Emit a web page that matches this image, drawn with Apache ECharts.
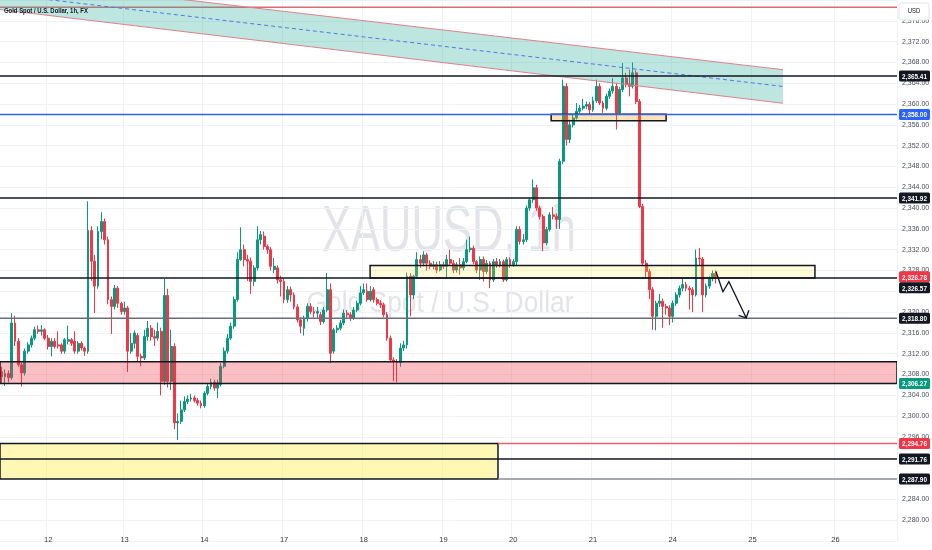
<!DOCTYPE html>
<html><head><meta charset="utf-8">
<script src="https://cdn.jsdelivr.net/npm/echarts@6/dist/echarts.min.js"></script>
<style>html,body{margin:0;padding:0;background:#fff}#c{width:932px;height:550px}</style>
</head><body><div id="c"></div><script>
// ---------- DATA ----------
const N_BARS = 270;                       // hourly slots on the time axis (incl. future space)
const dayLabels   = ['12','13','14','17','18','19','20','21','24','25','26'];
const dayStartBar = [14, 37, 61, 85, 109, 133, 154, 178, 202, 226, 251];
// hourly candles: [open, close, low, high]
const ohlc = [
[2308.6,2307.6,2306.3,2309.5],[2307.6,2308.2,2305.8,2309.0],[2308.2,2307.4,2306.5,2308.8],[2307.4,2317.9,2307.0,2319.8],
[2317.9,2314.4,2313.5,2319.3],[2314.4,2309.9,2309.5,2315.0],[2309.9,2308.3,2305.7,2310.4],[2308.3,2312.5,2307.8,2313.0],
[2312.5,2313.7,2312.0,2314.2],[2313.7,2315.0,2313.2,2315.5],[2315.0,2316.6,2314.6,2317.2],[2316.6,2316.3,2315.8,2317.4],
[2316.3,2316.6,2315.5,2317.5],[2316.6,2315.0,2314.6,2316.9],[2315.0,2313.4,2312.8,2315.6],[2313.4,2314.4,2311.5,2315.0],
[2314.4,2313.4,2313.0,2315.0],[2313.7,2313.5,2313.0,2316.3],[2313.7,2312.5,2312.0,2314.0],[2312.5,2314.7,2312.0,2315.0],
[2314.4,2314.7,2313.8,2317.4],[2314.7,2314.0,2313.5,2315.0],[2314.4,2312.5,2312.0,2316.3],[2312.5,2314.0,2312.0,2314.4],
[2314.0,2313.1,2312.6,2314.4],[2313.1,2312.5,2311.6,2313.4],[2312.5,2335.7,2312.0,2341.3],[2335.7,2329.8,2326.0,2336.5],
[2329.8,2325.0,2319.8,2331.0],[2325.0,2335.5,2324.5,2336.5],[2335.5,2337.4,2334.0,2339.2],[2337.4,2333.9,2333.0,2338.0],
[2333.9,2322.4,2321.5,2334.5],[2322.4,2321.1,2315.8,2323.0],[2321.1,2324.6,2320.5,2325.2],[2324.6,2321.7,2320.8,2325.0],
[2321.7,2320.1,2319.5,2322.0],[2320.1,2320.8,2319.5,2322.0],[2320.8,2312.5,2308.5,2321.2],[2312.5,2314.0,2312.0,2316.0],
[2314.0,2316.0,2313.0,2316.5],[2315.5,2311.5,2310.5,2316.0],[2311.5,2311.2,2309.6,2312.0],[2311.2,2315.3,2310.8,2316.6],
[2315.3,2316.9,2314.5,2318.3],[2316.9,2315.3,2314.5,2317.5],[2315.3,2315.0,2313.5,2316.6],[2315.0,2316.3,2314.5,2318.0],
[2316.3,2306.7,2304.0,2317.0],[2306.7,2323.2,2306.0,2326.4],[2323.2,2306.7,2305.5,2324.5],[2306.7,2313.4,2305.0,2316.6],
[2313.4,2298.7,2297.5,2314.0],[2298.7,2299.0,2295.4,2300.5],[2299.0,2301.2,2298.5,2303.0],[2301.2,2302.8,2300.8,2303.8],
[2302.8,2303.3,2302.3,2304.0],[2303.3,2303.5,2302.8,2304.3],[2303.5,2303.0,2302.6,2304.0],[2303.0,2302.5,2302.0,2303.5],
[2302.5,2302.0,2301.5,2303.0],[2302.0,2304.4,2301.6,2304.8],[2304.4,2305.7,2304.0,2306.3],[2305.7,2306.5,2305.2,2307.2],
[2306.5,2305.4,2304.9,2307.0],[2305.4,2306.4,2303.5,2307.0],[2306.1,2309.6,2305.7,2310.2],[2309.6,2312.5,2309.2,2313.2],
[2312.5,2315.0,2312.0,2315.8],[2315.0,2317.3,2314.6,2318.0],[2317.3,2322.4,2316.8,2323.0],[2322.4,2330.1,2322.0,2331.5],
[2330.1,2332.0,2329.8,2336.3],[2332.0,2330.1,2328.8,2333.0],[2330.1,2329.8,2326.0,2331.0],[2329.8,2325.9,2323.5,2330.5],
[2325.9,2328.5,2325.0,2329.0],[2328.5,2333.9,2328.0,2336.5],[2333.9,2334.9,2333.0,2335.6],[2334.6,2332.6,2332.0,2335.5],
[2332.6,2332.0,2331.2,2333.0],[2332.0,2328.8,2328.0,2332.5],[2328.2,2328.8,2327.5,2330.4],[2328.5,2326.2,2325.5,2329.0],
[2326.2,2325.9,2323.0,2327.0],[2325.9,2322.4,2321.7,2326.5],[2322.4,2324.3,2321.8,2325.0],[2324.3,2323.3,2322.0,2324.9],
[2323.3,2321.0,2320.5,2323.8],[2321.0,2318.5,2318.0,2321.5],[2318.5,2317.3,2315.9,2319.0],[2316.9,2318.9,2315.5,2319.3],
[2318.9,2321.1,2318.2,2321.7],[2321.1,2320.1,2319.6,2321.7],[2320.1,2319.8,2319.0,2321.0],[2319.8,2320.1,2318.9,2321.0],
[2319.5,2318.2,2317.5,2320.0],[2318.2,2320.4,2317.8,2321.0],[2320.4,2324.3,2320.0,2327.5],[2324.3,2312.1,2310.2,2325.5],
[2312.5,2316.6,2312.0,2317.0],[2316.6,2316.9,2316.0,2317.5],[2316.9,2317.9,2316.5,2318.5],[2317.9,2319.8,2317.5,2320.5],
[2319.8,2319.5,2318.9,2320.4],[2319.5,2318.9,2318.3,2320.0],[2318.9,2320.4,2318.5,2321.0],[2320.4,2321.7,2320.0,2322.2],
[2321.7,2323.7,2321.3,2325.0],[2323.7,2324.3,2323.3,2325.5],[2324.0,2322.4,2322.0,2325.5],[2322.4,2324.0,2322.0,2325.0],
[2324.3,2322.4,2321.8,2324.8],[2322.4,2321.7,2321.3,2322.8],[2321.7,2321.4,2320.8,2322.3],[2321.4,2319.5,2319.0,2321.8],
[2319.5,2315.0,2314.5,2320.0],[2315.0,2310.8,2310.3,2315.5],[2310.8,2310.5,2306.7,2311.3],[2310.5,2310.3,2306.5,2311.0],
[2310.3,2313.1,2309.5,2314.0],[2313.1,2313.7,2312.5,2314.5],[2313.7,2326.9,2313.0,2327.6],[2326.9,2323.3,2319.2,2327.5],
[2323.3,2326.9,2322.5,2327.2],[2326.9,2330.1,2326.5,2331.5],[2330.1,2329.4,2328.5,2331.0],[2329.4,2331.0,2328.8,2331.7],
[2331.0,2329.4,2328.0,2331.4],[2329.4,2328.8,2328.2,2330.0],[2328.8,2329.1,2328.2,2329.8],[2329.1,2328.1,2327.5,2329.7],
[2328.1,2329.1,2327.8,2329.8],[2329.1,2328.8,2328.3,2329.7],[2328.8,2330.1,2326.5,2331.0],[2330.1,2329.4,2329.0,2332.0],
[2329.4,2328.1,2327.5,2330.0],[2328.1,2329.1,2327.6,2329.6],[2329.1,2328.5,2327.2,2330.4],[2328.5,2329.7,2328.0,2330.4],
[2329.7,2332.0,2329.4,2333.9],[2332.0,2332.3,2331.5,2334.5],[2332.3,2329.7,2329.2,2332.8],[2329.7,2328.1,2327.5,2330.0],
[2328.1,2330.1,2326.2,2330.7],[2330.1,2327.8,2325.9,2330.7],[2327.8,2329.4,2327.3,2330.0],[2329.4,2326.2,2324.6,2329.8],
[2326.2,2329.7,2325.8,2330.2],[2329.7,2329.1,2328.5,2330.4],[2329.1,2329.7,2328.6,2330.2],[2329.7,2326.2,2325.8,2330.1],
[2326.2,2330.1,2325.9,2330.6],[2330.1,2329.1,2328.5,2330.5],[2329.1,2329.7,2328.7,2330.2],[2329.7,2335.9,2329.0,2336.5],
[2335.9,2333.6,2333.0,2336.5],[2333.6,2333.9,2333.0,2335.0],[2333.9,2340.0,2333.5,2340.5],[2340.0,2341.6,2339.5,2342.0],
[2341.6,2343.9,2341.0,2345.5],[2343.9,2340.0,2339.5,2344.5],[2340.0,2338.4,2337.8,2340.5],[2338.4,2333.3,2331.7,2338.8],
[2333.3,2335.9,2332.8,2336.4],[2335.9,2338.7,2335.5,2339.2],[2338.7,2338.4,2337.8,2340.2],[2338.4,2337.8,2336.0,2339.0],
[2337.8,2349.0,2336.0,2349.5],[2349.0,2363.4,2348.5,2364.7],[2363.4,2353.2,2352.0,2364.0],[2353.2,2356.0,2352.5,2357.0],
[2356.0,2357.3,2355.5,2358.0],[2357.3,2358.6,2357.0,2360.2],[2358.6,2359.2,2358.2,2359.8],[2359.2,2359.6,2358.8,2361.0],
[2359.6,2359.9,2359.0,2360.5],[2359.9,2358.9,2358.0,2360.4],[2358.9,2360.6,2358.5,2361.4],[2360.6,2363.4,2360.2,2364.7],
[2363.4,2360.2,2359.8,2364.0],[2360.2,2359.2,2358.3,2360.6],[2359.2,2361.5,2358.8,2362.0],[2361.5,2362.5,2361.0,2363.0],
[2362.5,2363.4,2362.0,2365.0],[2363.4,2358.3,2355.1,2364.0],[2358.3,2362.8,2358.0,2363.3],[2362.8,2365.0,2362.3,2367.9],
[2365.0,2363.7,2363.2,2366.0],[2363.9,2363.4,2361.5,2366.6],[2363.4,2366.0,2363.0,2368.0],[2366.0,2360.5,2360.0,2366.5],
[2360.5,2340.3,2340.0,2361.0],[2340.3,2329.4,2329.0,2340.8],[2329.4,2327.8,2326.5,2330.0],[2327.8,2324.3,2322.5,2328.3],
[2324.3,2319.2,2316.6,2324.8],[2319.2,2321.7,2316.5,2322.2],[2321.7,2322.1,2321.0,2323.5],[2322.1,2321.1,2317.0,2322.6],
[2321.1,2320.8,2319.5,2321.6],[2320.8,2319.2,2317.5,2321.3],[2319.2,2321.7,2318.0,2322.2],[2321.7,2323.3,2321.2,2323.8],
[2323.3,2324.6,2322.8,2325.1],[2324.6,2325.3,2324.0,2326.5],[2325.3,2324.6,2324.0,2325.8],[2324.6,2324.3,2320.5,2325.0],
[2324.3,2323.3,2320.0,2324.8],[2323.3,2330.4,2323.0,2332.0],[2330.4,2330.2,2329.0,2332.3],[2330.2,2323.3,2320.0,2330.6],
[2323.3,2325.0,2322.8,2325.5],[2325.0,2326.4,2324.5,2326.9],[2326.4,2327.4,2325.9,2328.0],[2327.4,2326.78,2325.5,2328.0]
];
// y-axis tick values
const priceTickMin = 2276, priceTickMax = 2380, priceTickStep = 4;
// drawn horizontal levels
const levelPrices        = [2378.63, 2365.41, 2358.00, 2341.92, 2326.57, 2318.80, 2291.76];
const partialLevelPrices = [2294.76, 2287.90];           // start at the right edge of the low box
// zones: [fromBar, toBar, low, high]
const pinkZone = [-0.5, 269.5, 2306.27, 2310.46];
const midBox   = [110.9, 244.8, 2326.57, 2328.95];
const topBox   = [165.4, 200.0, 2356.80, 2358.06];
const lowBox   = [-0.5, 149.4, 2287.90, 2294.76];
// descending channel: [bar, price]
const channelTop    = [[-0.5, 2384.2], [235.2, 2366.6]];
const channelBottom = [[-0.5, 2378.15], [235.2, 2360.15]];
// projected path arrow: [bar, price]
const arrowPath = [[215.0, 2327.8], [217.1, 2323.9], [218.9, 2325.85], [224.1, 2318.9]];
// price tags on the scale (descending)
const tagPrices = [2365.41, 2358.00, 2341.92, 2326.78, 2326.57, 2318.80, 2306.27, 2294.76, 2291.76, 2287.90];

// ---------- STYLE ----------
const UP = '#089981', DOWN = '#f23645', INK = '#131722';
const SANS = "'Liberation Sans',Arial,sans-serif";
const levelStyles = [
  {stroke:'#e06a72', lineWidth:1.5}, {stroke:INK, lineWidth:1.5}, {stroke:'#2f66e0', lineWidth:1.5},
  {stroke:INK, lineWidth:1.5}, {stroke:INK, lineWidth:1.5}, {stroke:'#6b6e78', lineWidth:1.5}, {stroke:INK, lineWidth:1.5}
];
const partialStyles = [{stroke:'#f0606c', lineWidth:1.5}, {stroke:'#8a8d96', lineWidth:1.5}];
const tagFills = [INK, '#2962ff', INK, DOWN, INK, INK, UP, DOWN, INK, INK];

const categories = Array.from({length: N_BARS}, (_, i) => {
  const k = dayStartBar.indexOf(i); return k >= 0 ? dayLabels[k] : '';
});
const fmt = v => { const s = v.toFixed(2).split('.'); return s[0].replace(/\B(?=(\d{3})+$)/g, ',') + '.' + s[1]; };

function drawShapes(params, api) {
  const P = (x, y) => api.coord([x, y]);
  const xL = -0.5, xR = N_BARS - 0.5;
  const kids = [];
  const hline = (y, x1, x2, st) => { const a = P(x1, y), b = P(x2, y);
    kids.push({type:'line', shape:{x1:a[0], y1:a[1], x2:b[0], y2:b[1]}, style:st}); };
  const box = (z, fill, stroke, lw) => { const a = P(z[0], z[3]), b = P(z[1], z[2]);
    kids.push({type:'rect', shape:{x:a[0], y:a[1], width:b[0]-a[0], height:b[1]-a[1]},
      style:{fill, stroke, lineWidth:lw}}); };
  hline(levelPrices[0], xL, xR, levelStyles[0]);
  const t0 = P(...channelTop[0]), t1 = P(...channelTop[1]);
  const b0 = P(...channelBottom[0]), b1 = P(...channelBottom[1]);
  kids.push({type:'polygon', shape:{points:[t0, t1, b1, b0]}, style:{fill:'rgba(34,171,148,0.30)'}});
  kids.push({type:'line', shape:{x1:t0[0], y1:t0[1], x2:t1[0], y2:t1[1]}, style:{stroke:'#e0808a', lineWidth:1}});
  kids.push({type:'line', shape:{x1:b0[0], y1:b0[1], x2:b1[0], y2:b1[1]}, style:{stroke:'#e0808a', lineWidth:1}});
  kids.push({type:'line', shape:{x1:(t0[0]+b0[0])/2, y1:(t0[1]+b0[1])/2, x2:(t1[0]+b1[0])/2, y2:(t1[1]+b1[1])/2},
    style:{stroke:'#4f78e6', lineWidth:1, lineDash:[4,3]}});
  box(pinkZone, 'rgba(242,54,69,0.32)', INK, 1.5);
  box(lowBox, 'rgba(255,235,59,0.38)', INK, 1.5);
  box(midBox, 'rgba(255,235,59,0.20)', INK, 1.5);
  box(topBox, 'rgba(255,152,0,0.28)', INK, 1.5);
  for (let k = 1; k < levelPrices.length; k++) hline(levelPrices[k], xL, xR, levelStyles[k]);
  for (let k = 0; k < partialLevelPrices.length; k++) hline(partialLevelPrices[k], lowBox[1], xR, partialStyles[k]);
  const pts = arrowPath.map(p => P(p[0], p[1]));
  kids.push({type:'polyline', shape:{points:pts}, style:{stroke:INK, lineWidth:1.3, fill:null}});
  const tip = pts[pts.length-1], prev = pts[pts.length-2];
  const ang = Math.atan2(prev[1]-tip[1], prev[0]-tip[0]), L = 8;
  const arm = d => [tip[0] + L*Math.cos(ang+d), tip[1] + L*Math.sin(ang+d)];
  kids.push({type:'polyline', shape:{points:[arm(0.8), tip, arm(-0.8)]}, style:{stroke:INK, lineWidth:1.3, fill:null}});
  return {type:'group', children:kids};
}

const TAG_H = 11;
function drawTag(params, api) {
  const idx = params.dataIndex, xR = N_BARS - 0.5;
  let prevBottom = -Infinity, top = 0;
  for (let k = 0; k <= idx; k++) {
    let t = api.coord([xR, tagPrices[k]])[1] - TAG_H / 2;
    if (t < prevBottom) t = prevBottom;
    prevBottom = t + TAG_H;
    if (k === idx) top = t;
  }
  const x0 = api.coord([xR, tagPrices[idx]])[0] + 2;
  return {type:'group', children:[
    {type:'rect', shape:{x:x0, y:top, width:31, height:TAG_H, r:1.5}, style:{fill:tagFills[idx]}},
    {type:'text', x:x0+15.5, y:top+TAG_H/2+0.5, scaleX:0.8,
     style:{x:0, y:0, text:fmt(tagPrices[idx]), fill:'#fff', font:'bold 8px ' + SANS, align:'center', verticalAlign:'middle'}}
  ]};
}

const chart = echarts.init(document.getElementById('c'), null, {renderer:'canvas'});
chart.setOption({
  animation: false,
  backgroundColor: '#ffffff',
  grid: {left: 0, right: 35, top: 0, bottom: 9, outerBoundsMode: 'none'},
  xAxis: [{
    type: 'category', data: categories, boundaryGap: true, offset: -13,
    axisLine: {show: false}, axisTick: {show: false},
    axisLabel: {interval: (i, v) => v !== '', color: '#363a45', fontSize: 7.5, fontFamily: SANS, margin: 8},
    splitLine: {show: true, interval: (i, v) => v !== '', lineStyle: {color: '#f0f2f7', width: 1}}
  }, {
    type: 'value', min: -0.5, max: N_BARS - 0.5, show: false, splitLine: {show: false}
  }],
  yAxis: {
    type: 'value', position: 'right', min: priceTickMin, max: priceTickMax, interval: priceTickStep, scale: true,
    axisLine: {show: false}, axisTick: {show: false},
    axisLabel: {color: '#4a4e59', fontSize: 7, fontFamily: SANS, margin: 5,
      formatter: v => (v < 2280 || v > 2376) ? '' : fmt(v)},
    splitLine: {lineStyle: {color: '#f0f2f7', width: 1}}
  },
  graphic: [
    {type:'text', x: 449, y: 233, z: -10, silent: true, scaleX: 0.68,
     style:{text:'XAUUSD, 1h', fill:'#e3e4e8', font:'64px ' + SANS, align:'center', verticalAlign:'middle'}},
    {type:'text', x: 440, y: 304, z: -10, silent: true, scaleX: 0.88,
     style:{text:'Gold Spot / U.S. Dollar', fill:'#e3e4e8', font:'30px ' + SANS, align:'center', verticalAlign:'middle'}},
    {type:'text', x: 4, y: 11, z: 50, silent: true, scaleX: 0.74,
     style:{text:'Gold Spot / U.S. Dollar, 1h, FX', fill: INK, font:'bold 8px ' + SANS, align:'left', verticalAlign:'middle'}},
    {type:'rect', x: 899, y: 3, z: 50, shape:{width: 30, height: 17, r: 2}, style:{fill:'#fff', stroke:'#e0e3eb', lineWidth:1}},
    {type:'text', x: 914, y: 11.5, z: 51, scaleX: 0.85,
     style:{text:'USD', fill: INK, font:'7px ' + SANS, align:'center', verticalAlign:'middle'}}
  ],
  series: [
    {type: 'candlestick', xAxisIndex: 0, data: ohlc, barWidth: 2.4, z: 2,
     itemStyle: {color: UP, color0: DOWN, borderColor: UP, borderColor0: DOWN, borderWidth: 1}},
    {type: 'custom', xAxisIndex: 1, yAxisIndex: 0, clip: true, z: 4, silent: true,
     encode: {x: 0, y: 1}, data: [[0, 2330]], renderItem: drawShapes},
    {type: 'custom', xAxisIndex: 1, yAxisIndex: 0, clip: false, z: 6, silent: true,
     encode: {x: 0, y: 1}, data: tagPrices.map(v => [N_BARS - 0.5, v]), renderItem: drawTag}
  ]
});
</script></body></html>
